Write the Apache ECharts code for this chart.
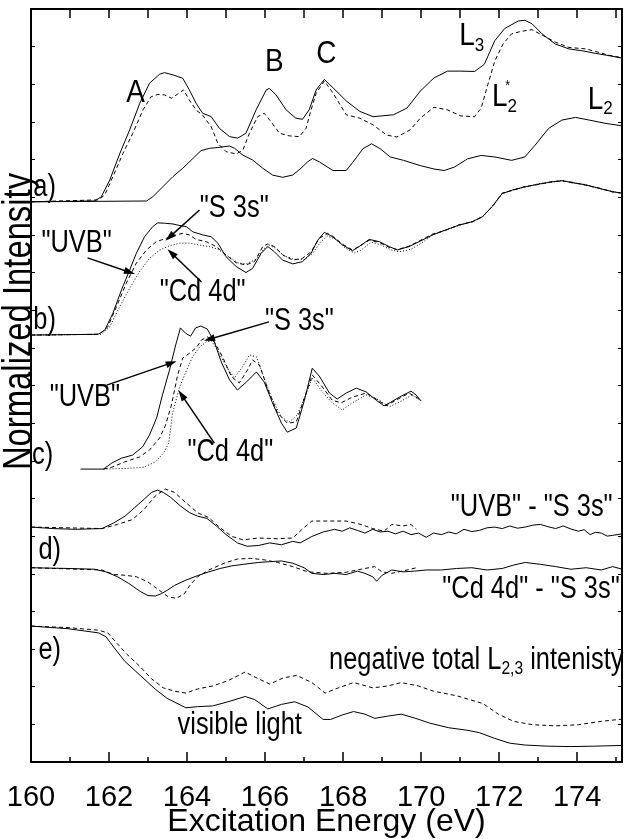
<!DOCTYPE html>
<html>
<head>
<meta charset="utf-8">
<title>Normalized Intensity</title>
<script src="https://cdn.jsdelivr.net/npm/echarts@6/dist/echarts.min.js"></script>
<style>
html, body { margin: 0; padding: 0; background: #fff; }
#chart { width: 624px; height: 839px; }
</style>
</head>
<body>
<div id="chart"></div>
<script>
// ---- data (energy in eV, intensity in arbitrary units with panel offsets) ----
var aSolid = [[160.00,14.88],[161.63,14.90],[161.80,15.01],[162.02,15.46],[162.28,16.17],[162.53,16.79],[162.79,17.50],[163.04,18.03],[163.30,18.27],[163.42,18.31],[163.64,18.25],[163.89,18.16],[164.06,17.85],[164.23,17.50],[164.40,17.23],[164.62,17.14],[164.83,16.83],[165.09,16.61],[165.30,16.57],[165.51,16.70],[165.77,17.32],[166.03,17.85],[166.11,17.89],[166.28,17.72],[166.54,17.32],[166.79,17.10],[166.96,17.07],[167.13,17.32],[167.31,17.85],[167.52,18.13],[167.74,17.91],[168.08,17.56],[168.43,17.28],[168.77,17.14],[169.29,17.19],[169.64,17.37],[169.98,17.82],[170.33,18.17],[170.68,18.35],[171.02,18.35],[171.37,18.34],[171.62,18.53],[171.89,19.16],[172.14,19.48],[172.49,19.68],[172.66,19.70],[172.84,19.61],[173.10,19.34],[173.44,19.07],[173.79,18.94],[174.13,18.89],[174.48,18.82],[174.82,18.76],[175.13,18.70]];
var aDashed = [[160.00,14.88],[161.72,14.93],[161.89,15.06],[162.10,15.55],[162.36,16.17],[162.61,16.70],[162.87,17.32],[163.08,17.67],[163.25,17.73],[163.42,17.72],[163.60,17.63],[163.76,17.74],[163.91,17.85],[164.06,17.58],[164.23,17.32],[164.40,17.18],[164.62,16.87],[164.79,16.43],[165.00,16.21],[165.26,16.15],[165.43,16.25],[165.60,16.70],[165.81,17.14],[165.98,17.23],[166.15,17.01],[166.37,16.70],[166.62,16.63],[166.88,16.61],[167.05,16.83],[167.18,17.32],[167.31,17.76],[167.52,18.09],[167.74,17.77],[168.08,17.19],[168.43,17.10],[168.77,16.92],[169.12,16.65],[169.38,16.60],[169.72,16.79],[169.98,17.10],[170.33,17.39],[170.68,17.32],[171.02,17.16],[171.37,17.14],[171.54,17.37],[171.71,17.99],[171.89,18.62],[172.10,19.07],[172.32,19.34],[172.58,19.41],[172.84,19.45],[173.10,19.31],[173.44,19.12],[173.79,18.98],[174.22,18.94],[174.48,18.87],[174.82,18.77],[175.13,18.71]];
var aLower = [[160.00,14.88],[162.96,14.90],[163.12,15.01],[163.38,15.28],[163.64,15.55],[163.89,15.77],[164.15,16.03],[164.36,16.24],[164.58,16.30],[164.79,16.32],[164.92,16.34],[165.09,16.36],[165.22,16.30],[165.43,16.12],[165.68,15.99],[165.94,15.77],[166.19,15.59],[166.45,15.53],[166.71,15.59],[166.92,15.77],[167.09,15.94],[167.22,16.03],[167.39,15.94],[167.74,15.71],[168.08,15.71],[168.25,15.93],[168.51,16.29],[168.73,16.42],[168.95,16.29],[169.21,16.07],[169.55,15.98],[169.98,15.84],[170.33,15.75],[170.59,15.71],[170.85,15.80],[171.19,16.02],[171.54,16.11],[171.89,16.07],[172.32,15.98],[172.66,16.07],[172.92,16.38],[173.27,16.83],[173.61,17.05],[173.96,17.12],[174.31,17.05],[174.74,16.96],[175.13,16.90]];

var bUVB = [[160.00,11.34],[161.72,11.36],[161.89,11.47],[162.10,11.92],[162.32,12.54],[162.53,13.07],[162.70,13.51],[162.91,13.95],[163.12,14.22],[163.25,14.32],[163.42,14.31],[163.64,14.29],[163.85,14.24],[163.98,14.22],[164.15,14.08],[164.40,14.00],[164.62,13.95],[164.79,13.78],[165.00,13.42],[165.26,13.16],[165.51,13.00],[165.68,13.11],[165.90,13.51],[166.07,13.69],[166.24,13.55],[166.45,13.33],[166.71,13.23],[166.96,13.29],[167.18,13.51],[167.35,13.86],[167.52,14.07],[167.73,13.95],[167.99,13.73],[168.24,13.58],[168.41,13.69],[168.67,13.88],[168.93,13.82],[169.18,13.69],[169.39,13.60],[169.69,13.69],[170.03,13.86],[170.29,14.00],[170.63,14.13],[170.97,14.26],[171.31,14.35],[171.57,14.48],[171.82,14.75],[172.08,15.10],[172.34,15.19],[172.68,15.28],[173.02,15.35],[173.36,15.41],[173.62,15.44],[173.87,15.39],[174.21,15.33],[174.55,15.24],[174.90,15.15],[175.12,15.11]];
var bS3s = [[160.00,11.34],[161.76,11.36],[161.97,11.56],[162.19,12.09],[162.44,12.71],[162.70,13.25],[162.96,13.60],[163.21,13.82],[163.47,13.91],[163.72,14.00],[163.89,14.04],[164.06,14.00],[164.23,13.88],[164.49,13.82],[164.75,13.69],[165.00,13.47],[165.26,13.26],[165.51,13.20],[165.73,13.29],[165.94,13.69],[166.07,13.76],[166.24,13.69],[166.45,13.47],[166.71,13.33],[166.96,13.38],[167.18,13.55],[167.39,13.91],[167.60,14.04],[167.73,13.97],[167.99,13.75],[168.24,13.60],[168.41,13.69],[168.67,13.86],[168.93,13.80],[169.18,13.67],[169.39,13.61],[169.69,13.70],[170.03,13.88],[170.29,14.02],[170.63,14.12],[170.97,14.27],[171.31,14.34],[171.57,14.49],[171.82,14.74],[172.08,15.11],[172.34,15.18],[172.68,15.29],[173.02,15.34],[173.36,15.42],[173.62,15.43],[173.87,15.40],[174.21,15.32],[174.55,15.25],[174.90,15.14],[175.12,15.12]];
var bCd4d = [[160.00,11.34],[161.80,11.36],[162.02,11.56],[162.27,12.09],[162.53,12.58],[162.78,13.02],[163.04,13.38],[163.30,13.60],[163.55,13.71],[163.81,13.78],[164.06,13.78],[164.32,13.73],[164.57,13.69],[164.79,13.62],[165.04,13.44],[165.30,13.26],[165.51,13.23],[165.77,13.35],[165.98,13.64],[166.11,13.73],[166.28,13.64],[166.49,13.44],[166.75,13.35],[167.01,13.35],[167.22,13.51],[167.43,13.82],[167.60,13.97],[167.80,13.89],[168.06,13.65],[168.29,13.52],[168.47,13.60],[168.72,13.81],[168.98,13.73],[169.23,13.60],[169.44,13.55],[169.74,13.62],[170.05,13.81],[170.29,13.99],[170.63,14.14],[170.97,14.25],[171.31,14.36],[171.57,14.47],[171.82,14.76],[172.08,15.09],[172.34,15.20],[172.68,15.27],[173.02,15.36],[173.36,15.40],[173.62,15.45],[173.87,15.38],[174.21,15.34],[174.55,15.23],[174.90,15.16],[175.12,15.10]];

var cUVB = [[161.27,7.78],[161.86,7.78],[162.07,7.94],[162.32,8.07],[162.60,8.15],[162.86,8.37],[163.04,8.69],[163.22,9.14],[163.37,9.75],[163.55,10.41],[163.71,11.08],[163.83,11.53],[163.96,11.39],[164.09,11.31],[164.22,11.53],[164.35,11.58],[164.52,11.50],[164.70,11.16],[164.88,10.62],[165.09,10.15],[165.29,9.88],[165.52,10.09],[165.78,10.36],[165.98,10.09],[166.19,9.54],[166.42,9.00],[166.57,8.76],[166.80,8.87],[167.01,9.61],[167.21,10.46],[167.39,10.25],[167.65,9.80],[167.85,9.64],[168.08,9.80],[168.34,9.93],[168.59,9.83],[168.85,9.61],[169.05,9.46],[169.23,9.56],[169.44,9.69],[169.74,9.85],[169.87,9.75],[170.00,9.59]];
var cS3s = [[161.86,7.78],[162.07,7.83],[162.40,7.97],[162.78,8.10],[163.04,8.29],[163.30,8.61],[163.45,8.95],[163.60,9.48],[163.76,10.28],[163.89,10.73],[164.07,10.86],[164.25,11.02],[164.37,11.21],[164.52,11.29],[164.70,11.16],[164.91,10.76],[165.14,10.23],[165.34,10.07],[165.55,10.41],[165.68,10.68],[165.86,10.54],[166.06,9.93],[166.32,9.27],[166.57,9.00],[166.80,9.03],[167.01,9.67],[167.21,10.28],[167.47,9.96],[167.72,9.61],[167.95,9.54],[168.24,9.69],[168.59,9.80],[168.85,9.64],[169.10,9.46],[169.36,9.61],[169.69,9.80],[170.00,9.61]];
var cCd4d = [[161.86,7.78],[162.50,7.80],[162.89,7.83],[163.19,7.97],[163.40,8.21],[163.53,8.47],[163.63,9.27],[163.81,9.96],[163.99,10.41],[164.14,10.76],[164.32,11.02],[164.50,11.16],[164.63,11.18],[164.78,10.94],[165.01,10.49],[165.21,10.20],[165.42,10.49],[165.60,10.81],[165.78,10.76],[165.93,10.33],[166.16,9.69],[166.42,9.16],[166.62,9.03],[166.83,9.22],[167.06,9.80],[167.21,10.20],[167.47,9.83],[167.72,9.54],[167.98,9.35],[168.24,9.54],[168.59,9.75],[168.93,9.61],[169.18,9.43],[169.44,9.56],[169.77,9.75],[170.00,9.59]];

var dUvbSolid = [[160.00,6.24],[160.56,6.20],[161.14,6.18],[161.82,6.20],[162.12,6.35],[162.41,6.53],[162.66,6.76],[162.90,6.98],[163.09,7.16],[163.24,7.22],[163.39,7.16],[163.58,7.03],[163.83,6.80],[164.07,6.62],[164.27,6.53],[164.51,6.47],[164.75,6.27],[165.00,6.04],[165.29,5.82],[165.54,5.73],[165.83,5.75],[166.12,5.82],[166.42,5.77],[166.71,5.86],[166.90,5.82],[167.20,5.99],[167.49,6.11],[167.78,6.18],[167.98,6.13],[168.17,6.22],[168.37,6.15],[168.56,6.08],[168.76,6.18],[168.95,6.11],[169.15,6.13],[169.34,6.06],[169.54,6.13],[169.74,6.04],[169.93,6.08],[170.13,5.97],[170.32,6.08],[170.52,6.04],[170.71,6.11],[170.90,6.06],[171.10,6.18],[171.30,6.12],[171.49,6.15],[171.69,6.22],[171.88,6.24],[172.08,6.20],[172.27,6.27],[172.47,6.21],[172.67,6.24],[172.86,6.29],[173.06,6.31],[173.25,6.25],[173.45,6.20],[173.64,6.27],[173.84,6.19],[174.03,6.13],[174.18,6.17],[174.33,6.04],[174.47,6.10],[174.62,6.08],[174.77,6.00],[174.91,6.02],[175.16,6.06]];
var dUvbDashed = [[160.00,6.24],[161.82,6.20],[162.22,6.31],[162.60,6.44],[162.90,6.71],[163.19,7.07],[163.44,7.25],[163.68,7.16],[163.97,6.89],[164.27,6.62],[164.56,6.49],[164.85,6.22],[165.15,5.99],[165.44,5.90],[165.83,5.95],[166.32,5.93],[166.71,5.95],[166.95,6.18],[167.20,6.40],[167.59,6.40],[168.08,6.40],[168.46,6.31],[168.76,6.20],[169.05,6.13],[169.25,6.31],[169.54,6.27],[169.74,6.31],[169.88,6.18]];
var dCdSolid = [[160.00,5.16],[160.95,5.14],[161.63,5.12],[161.92,5.05],[162.22,4.92],[162.51,4.74],[162.80,4.53],[163.00,4.42],[163.19,4.41],[163.34,4.47],[163.49,4.56],[163.68,4.69],[163.97,4.83],[164.27,4.95],[164.56,5.05],[164.85,5.14],[165.15,5.21],[165.44,5.25],[165.83,5.30],[166.12,5.32],[166.42,5.34],[166.71,5.28],[167.00,5.16],[167.20,5.01],[167.49,4.98],[167.78,5.01],[168.08,4.98],[168.37,5.07],[168.56,5.01],[168.76,4.92],[168.86,4.80],[169.00,4.96],[169.25,5.10],[169.54,5.05],[169.83,5.07],[170.13,5.10],[170.52,5.10],[170.91,5.14],[171.30,5.16],[171.69,5.10],[172.08,5.14],[172.37,5.23],[172.67,5.30],[173.06,5.25],[173.45,5.19],[173.84,5.12],[174.23,5.16],[174.62,5.10],[174.91,5.19],[175.16,5.12]];
var dCdDashed = [[160.00,5.16],[161.82,5.10],[162.12,4.98],[162.41,4.96],[162.70,4.92],[163.00,4.78],[163.29,4.56],[163.53,4.38],[163.73,4.35],[163.93,4.47],[164.07,4.69],[164.27,4.92],[164.56,5.10],[164.95,5.28],[165.29,5.39],[165.63,5.41],[165.98,5.37],[166.32,5.30],[166.71,5.19],[167.10,5.05],[167.59,5.01],[168.08,5.04],[168.46,5.12],[168.81,5.19],[169.00,5.05],[169.25,5.01],[169.64,5.10],[169.88,5.16]];

var eVisible = [[160.00,3.61],[160.95,3.54],[161.73,3.43],[161.92,3.33],[162.12,3.05],[162.41,2.67],[162.80,2.30],[163.19,1.93],[163.49,1.69],[163.97,1.44],[164.27,1.47],[164.66,1.49],[165.05,1.60],[165.49,1.74],[165.73,1.66],[166.07,1.41],[166.42,1.53],[166.76,1.60],[167.10,1.46],[167.49,1.13],[167.68,1.13],[167.98,1.25],[168.27,1.34],[168.56,1.27],[168.81,1.16],[169.15,1.22],[169.49,1.27],[169.83,1.17],[170.23,1.03],[170.71,0.91],[171.20,0.84],[171.49,0.78],[171.88,0.63],[172.27,0.50],[172.67,0.45],[173.25,0.42],[173.84,0.41],[174.42,0.42],[175.16,0.44]];
var eNegTotal = [[160.00,3.61],[160.95,3.57],[161.73,3.50],[161.97,3.43],[162.17,3.19],[162.46,2.86],[162.80,2.53],[163.09,2.21],[163.39,1.97],[163.68,1.88],[163.97,1.83],[164.27,1.94],[164.66,2.02],[165.05,2.16],[165.49,2.39],[165.83,2.21],[166.12,2.07],[166.46,2.23],[166.81,2.30],[167.20,2.11],[167.54,1.83],[167.88,1.97],[168.27,2.11],[168.76,1.97],[169.15,2.02],[169.49,2.11],[169.93,2.02],[170.32,1.88],[170.91,1.76],[171.59,1.55],[171.98,1.27],[172.37,1.08],[172.86,0.99],[173.45,0.96],[174.03,0.99],[174.62,1.08],[175.16,1.14]];

var xTickLabels = ['160', '162', '164', '166', '168', '170', '172', '174'];

// annotation anchors in data units
var panelTags = [['a)', 160.35, 15.27], ['b)', 160.35, 11.74], ['c)', 160.30, 8.15], ['d)', 160.48, 5.63], ['e)', 160.48, 2.97]];
var peakTags = [['A', 162.68, 17.77], ['B', 166.24, 18.59], ['C', 167.57, 18.78]];
var curveTags = [['"S 3s"', 165.21, 14.71], ['"UVB"', 161.17, 13.78], ['"Cd 4d"', 164.40, 12.46],
                 ['"S 3s"', 166.88, 11.71], ['"UVB"', 161.38, 9.69], ['"Cd 4d"', 165.11, 8.21],
                 ['visible light', 165.35, 0.98]];
var arrows = [[[164.32, 14.66], [163.55, 13.94]], [[161.45, 13.39], [162.53, 13.01]], [[164.37, 12.75], [163.60, 13.52]],
              [[166.10, 11.69], [164.57, 11.23]], [[161.94, 10.01], [163.60, 10.60]], [[164.70, 8.47], [163.86, 9.75]]];

var FONT = '"Liberation Sans", Arial, Helvetica, sans-serif';
var NARROW = 0.82;   // squeeze text horizontally, the figure uses a narrow face
var chart = echarts.init(document.getElementById('chart'), null, { renderer: 'canvas' });

function curve(data, dash) {
    return {
        type: 'line', data: data, symbol: 'none', showSymbol: false, silent: true,
        xAxisIndex: 0, yAxisIndex: 0,
        lineStyle: { color: '#000', width: 1, type: dash || 'solid' },
        z: 3
    };
}
var DASH = [4, 3], DOT = [1, 2];

var series = [
    curve(aSolid), curve(aDashed, DASH), curve(aLower),
    curve(bUVB), curve(bS3s, DASH), curve(bCd4d, DOT),
    curve(cUVB), curve(cS3s, DASH), curve(cCd4d, DOT),
    curve(dUvbSolid), curve(dUvbDashed, DASH), curve(dCdSolid), curve(dCdDashed, DASH),
    curve(eVisible), curve(eNegTotal, DASH),
    {
        type: 'line', data: [], silent: true,
        markLine: {
            silent: true, animation: false,
            symbol: ['none', 'triangle'], symbolSize: [7, 11],
            lineStyle: { color: '#000', width: 1.5, type: 'solid' },
            label: { show: false },
            data: arrows.map(function (a) { return [{ coord: a[0] }, { coord: a[1] }]; })
        }
    }
];

var option = {
    animation: false,
    backgroundColor: '#fff',
    grid: { left: 31, right: 2, top: 9, bottom: 77, containLabel: false, outerBoundsMode: 'none' },
    xAxis: [{
        type: 'value', min: 160, max: 175.15, interval: 2, position: 'bottom',
        name: 'Excitation Energy (eV)', nameLocation: 'middle', nameGap: 44, nameMoveOverlap: false,
        nameTextStyle: { fontFamily: FONT, fontSize: 32, color: '#000' },
        axisLine: { lineStyle: { color: '#000', width: 2 } },
        axisTick: { inside: true, length: 10, lineStyle: { color: '#000', width: 1.5 } },
        axisLabel: {
            margin: 21, fontFamily: FONT, fontSize: 29, color: '#000', showMaxLabel: false,
            formatter: function (v) { return xTickLabels.indexOf(String(v)) >= 0 ? String(v) : ''; }
        },
        splitLine: { show: false }
    }, {
        type: 'value', min: 160, max: 175.15, interval: 1, position: 'bottom',
        axisLine: { show: false },
        axisTick: { inside: true, length: 5, lineStyle: { color: '#000', width: 1.5 } },
        axisLabel: { show: false }, splitLine: { show: false }
    }, {
        type: 'value', min: 160, max: 175.15, interval: 1, position: 'top',
        axisLine: { lineStyle: { color: '#000', width: 2 } },
        axisTick: { inside: true, length: 9, lineStyle: { color: '#000', width: 1.5 } },
        axisLabel: { show: false }, splitLine: { show: false }
    }],
    yAxis: [{
        type: 'value', min: 0, max: 20, interval: 1, position: 'left',
        axisLine: { show: true, lineStyle: { color: '#000', width: 2 } },
        axisTick: { show: true, inside: true, length: 4, lineStyle: { color: '#000', width: 1 } },
        axisLabel: { show: false }, splitLine: { show: false }
    }, {
        type: 'value', min: 0, max: 20, interval: 1, position: 'right',
        axisLine: { show: true, lineStyle: { color: '#000', width: 2 } },
        axisTick: { show: true, inside: true, length: 4, lineStyle: { color: '#000', width: 1 } },
        axisLabel: { show: false }, splitLine: { show: false }
    }],
    series: series
};
chart.setOption(option);

// text annotations placed from data coordinates
function px(x, y) { return chart.convertToPixel({ xAxisIndex: 0, yAxisIndex: 0 }, [x, y]); }
function txt(s, p, size, align, sx) {
    return {
        type: 'text', x: p[0], y: p[1], scaleX: sx || NARROW, silent: true, z: 10,
        style: {
            text: s, fill: '#000', font: size + 'px ' + FONT,
            textAlign: align || 'center', textVerticalAlign: 'middle',
            align: align || 'center', verticalAlign: 'middle'
        }
    };
}
function subTxt(main, sub, p, size, subSize) {
    return {
        type: 'text', x: p[0], y: p[1], scaleX: 0.9, silent: true, z: 10,
        style: {
            text: '{m|' + main + '}{s|' + sub + '}', fill: '#000',
            textAlign: 'left', textVerticalAlign: 'middle', align: 'left', verticalAlign: 'middle',
            rich: {
                m: { fontFamily: FONT, fontSize: size, lineHeight: size + 4, fill: '#000' },
                s: { fontFamily: FONT, fontSize: subSize, lineHeight: size + 4, padding: [Math.round(size * 0.55), 0, 0, 0], fill: '#000' }
            }
        }
    };
}

var g = [];
panelTags.forEach(function (t) { g.push(txt(t[0], px(t[1], t[2]), 31)); });
peakTags.forEach(function (t) { g.push(txt(t[0], px(t[1], t[2]), 31, 'center', 0.9)); });
curveTags.forEach(function (t) { g.push(txt(t[0], px(t[1], t[2]), 31)); });
g.push(txt('"UVB" - "S 3s"', px(174.91, 6.75), 31, 'right'));
g.push(txt('"Cd 4d" - "S 3s"', px(175.09, 4.57), 31, 'right'));
g.push(subTxt('L', '3', px(170.98, 19.26), 31, 19));
g.push(subTxt('L', '2', px(171.82, 17.64), 31, 19));
g.push(txt('*', px(172.22, 17.95), 15));
g.push(subTxt('L', '2', px(174.27, 17.58), 31, 19));
var negAt = px(167.64, 2.70);
g.push({
    type: 'text', silent: true, z: 10, x: negAt[0], y: negAt[1], scaleX: NARROW,
    style: {
        text: '{m|negative total L}{s|2,3}{m| intenisty}', fill: '#000',
        textAlign: 'left', textVerticalAlign: 'middle', align: 'left', verticalAlign: 'middle',
        rich: {
            m: { fontFamily: FONT, fontSize: 31, lineHeight: 34, fill: '#000' },
            s: { fontFamily: FONT, fontSize: 19, lineHeight: 34, padding: [16, 0, 0, 0], fill: '#000' }
        }
    }
});
// y axis title
var yMid = px(160, 11.7);
g.push({
    type: 'text', silent: true, z: 10, x: 20, y: yMid[1], rotation: Math.PI / 2, scaleX: NARROW,
    style: {
        text: 'Normalized Intensity', fill: '#000', font: '40px ' + FONT,
        textAlign: 'center', textVerticalAlign: 'middle', align: 'center', verticalAlign: 'middle'
    }
});
chart.setOption({ graphic: { elements: g } });
</script>
</body>
</html>
